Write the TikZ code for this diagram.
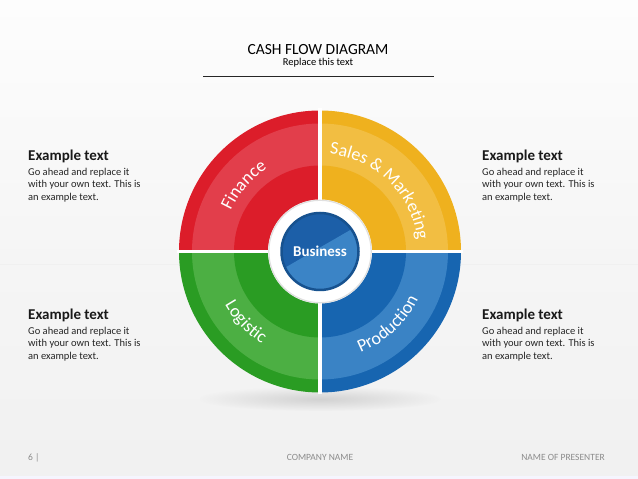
\documentclass[tikz,border=0pt]{standalone}
\usepackage{fontspec}
\setmainfont{Carlito}
\usetikzlibrary{decorations.text}
\definecolor{redD}{HTML}{DC1D2A}
\definecolor{redL}{HTML}{E23E4B}
\definecolor{yelD}{HTML}{EFB11E}
\definecolor{yelL}{HTML}{F2BE42}
\definecolor{grnD}{HTML}{2A9C23}
\definecolor{grnL}{HTML}{4CAF43}
\definecolor{bluD}{HTML}{1765B0}
\definecolor{bluL}{HTML}{3A83C5}
\definecolor{bizD}{HTML}{1C5FA8}
\definecolor{bizL}{HTML}{3B84C6}
\definecolor{bizB}{HTML}{17528F}
\definecolor{footgray}{HTML}{8C8C8C}
\definecolor{bgA}{HTML}{FDFDFD}
\definecolor{bgB}{HTML}{F5F5F5}
\definecolor{bgC}{HTML}{F1F1F1}
\tikzset{
  heading/.style={anchor=base west, inner sep=0pt, font=\fontsize{15}{18}\selectfont\bfseries, text=black!90},
  bodytext/.style={anchor=base west, inner sep=0pt, align=left, font=\fontsize{10.5}{12.5}\selectfont, text=black!85},
  footer/.style={anchor=base, inner sep=0pt, font=\fontsize{9.5}{11}\selectfont, text=footgray},
  arclabel/.style={decorate, decoration={text along path, text align=center, text color=white}}
}
\begin{document}
\begin{tikzpicture}[x=1pt,y=1pt]
\useasboundingbox (0,0) rectangle (638,479);
% background
\shade[top color=bgA, bottom color=bgB] (0,214) rectangle (638,479);
\shade[top color=bgB, bottom color=bgC] (0,0) rectangle (638,214);
\draw[color=black!6, line width=1pt] (0,214) -- (638,214);
\fill[color=bgC] (0,3) rectangle (638,39);
\fill[color=black!14!blue!4] (0,0) rectangle (638,3);
% shadow under the wheel
\shade[inner color=black!18, outer color=bgC] (320,80) ellipse [x radius=120, y radius=12];
% title
\node[anchor=base, inner sep=0pt, font=\fontsize{15.5}{18}\selectfont] (title) at (318,424.7) {CASH FLOW DIAGRAM};
\node[anchor=base, inner sep=0pt, font=\fontsize{10.5}{12}\selectfont] (sub) at (318,413.3) {Replace this text};
\coordinate (rule1) at (203,403);
\coordinate (rule2) at (434,403);
\draw[line width=0.9pt, color=black!85] (rule1) -- (rule2);
% wheel
\begin{scope}[shift={(320,227.5)}]
  % red
  \fill[redD] (0,0) -- (180:141) arc[start angle=180, end angle=90, radius=141] -- cycle;
  \fill[redL] (0,0) -- (180:128) arc[start angle=180, end angle=90, radius=128] -- cycle;
  \fill[redD] (0,0) -- (180:86) arc[start angle=180, end angle=90, radius=86] -- cycle;
  % yellow
  \fill[yelD] (0,0) -- (90:141) arc[start angle=90, end angle=0, radius=141] -- cycle;
  \fill[yelL] (0,0) -- (90:128) arc[start angle=90, end angle=0, radius=128] -- cycle;
  \fill[yelD] (0,0) -- (90:86) arc[start angle=90, end angle=0, radius=86] -- cycle;
  % green
  \fill[grnD] (0,0) -- (180:141) arc[start angle=180, end angle=270, radius=141] -- cycle;
  \fill[grnL] (0,0) -- (180:128) arc[start angle=180, end angle=270, radius=128] -- cycle;
  \fill[grnD] (0,0) -- (180:86) arc[start angle=180, end angle=270, radius=86] -- cycle;
  % blue
  \fill[bluD] (0,0) -- (270:141) arc[start angle=270, end angle=360, radius=141] -- cycle;
  \fill[bluL] (0,0) -- (270:128) arc[start angle=270, end angle=360, radius=128] -- cycle;
  \fill[bluD] (0,0) -- (270:86) arc[start angle=270, end angle=360, radius=86] -- cycle;
  % gaps
  \draw[white, line width=3.5pt] (0,-143) -- (0,143);
  \draw[white, line width=3.5pt] (-143,0) -- (143,0);
  % white ring
  \fill[white] (0,0) circle (52);
  \draw[black!12, line width=1.2pt] (0,0) circle (51.2);
  % business disc
  \begin{scope}
    \clip (0,0) circle (39);
    \fill[bizD] (-40,-40) rectangle (40,40);
    \fill[bizL] (-45,-22) -- (45,30) -- (45,-45) -- (-45,-45) -- cycle;
  \end{scope}
  \draw[bizB, line width=2.5pt] (0,0) circle (38.5);
  \node[text=white, font=\fontsize{15}{18}\selectfont\bfseries, inner sep=0pt] (biz) at (0,0) {Business};
  % arc labels
  \path[arclabel, decoration={text={|\fontsize{18}{18}\selectfont|Finance}}]
    (174:98) arc[start angle=174, end angle=104, radius=98];
  \path[arclabel, decoration={text={|\fontsize{18}{18}\selectfont|Sales {\&} Marketing}}]
    (96:98) arc[start angle=96, end angle=-5, radius=98];
  \path[arclabel, decoration={text={|\fontsize{18}{18}\selectfont|Logistic}}]
    (-176:109) arc[start angle=-176, end angle=-97, radius=109];
  \path[arclabel, decoration={text={|\fontsize{18}{18}\selectfont|Production}}]
    (-91:109) arc[start angle=-91, end angle=-3, radius=109];
\end{scope}
% side texts (body anchored on its last line's baseline)
\node[heading] (h1) at (28,318) {Example text};
\node[bodytext] (b1) at (28,278.5) {Go ahead and replace it\\with your own text. This is\\an example text.};
\node[heading] (h2) at (482,318) {Example text};
\node[bodytext] (b2) at (482,278.5) {Go ahead and replace it\\with your own text. This is\\an example text.};
\node[heading] (h3) at (28,159) {Example text};
\node[bodytext] (b3) at (28,119.5) {Go ahead and replace it\\with your own text. This is\\an example text.};
\node[heading] (h4) at (482,159) {Example text};
\node[bodytext] (b4) at (482,119.5) {Go ahead and replace it\\with your own text. This is\\an example text.};
% footer
\node[footer, anchor=base west] (pg) at (28,18.5) {6 |};
\node[footer] (comp) at (320,18.5) {COMPANY NAME};
\node[footer, anchor=base east] (pres) at (605,18.5) {NAME OF PRESENTER};
\end{tikzpicture}
\end{document}
